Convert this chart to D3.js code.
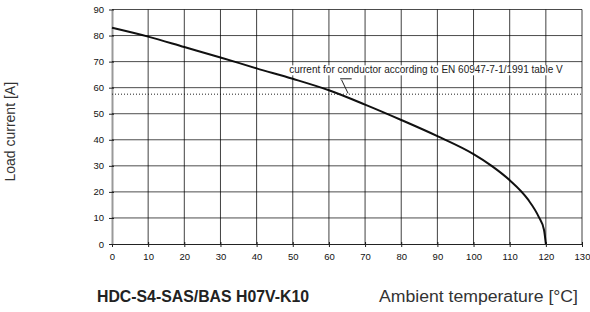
<!DOCTYPE html>
<html>
<head>
<meta charset="utf-8">
<script src="https://cdn.jsdelivr.net/npm/d3@7"></script>
</head>
<body style="margin:0">
<div id="chart"></div>
<script>
// derating curve: ambient temperature [°C] -> load current [A]
const temps    = [0, 10, 20, 30, 40, 50, 60, 70, 80, 90, 100, 105, 110, 115, 118, 119.5, 120];
const currents = [83, 79.6, 75.6, 71.6, 67.4, 63.4, 59, 53.5, 47.6, 41.4, 34.5, 30.0, 24.5, 17.2, 10.5, 5.4, 0];

const xTicks = [0, 10, 20, 30, 40, 50, 60, 70, 80, 90, 100, 110, 120, 130];
const yTicks = [0, 10, 20, 30, 40, 50, 60, 70, 80, 90];

const conductorLimit = 57.5;
const noteText = "current for conductor according to EN 60947-7-1/1991 table V";
const noteAt = { x: 49, y: 65.5 };
const leader = [[63.5, 63.0], [65.3, 57.8]];
const leaderTop = [[63.1, 63.4], [66.3, 63.4]];

const yTitle = "Load current [A]";
const productName = "HDC-S4-SAS/BAS H07V-K10";
const xTitle = "Ambient temperature [°C]";

const tickFont = "Liberation Sans Narrow, Liberation Sans, Arial, sans-serif";
const textFont = "Liberation Sans, Arial, sans-serif";

const svg = d3.select("#chart").append("svg").attr("width", 590).attr("height", 312);
const x = d3.scaleLinear().domain([0, 130]).range([112, 582]);
const y = d3.scaleLinear().domain([0, 90]).range([244, 9.5]);

// axes
const xAxis = svg.append("g")
    .attr("transform", `translate(0, ${y(0)})`)
    .call(d3.axisBottom(x).tickValues(xTicks).tickSize(3).tickSizeOuter(0).tickPadding(6));
xAxis.select(".domain").attr("stroke", "#222").attr("stroke-width", 1.2);
xAxis.selectAll(".tick line").attr("stroke", "#222").attr("y1", -2);
xAxis.selectAll(".tick text").attr("font-family", tickFont).attr("font-size", 9.5).attr("fill", "#111");

const yAxis = svg.append("g")
    .attr("transform", `translate(${x(0)}, 0)`)
    .call(d3.axisLeft(y).tickValues(yTicks).tickSize(3).tickSizeOuter(0).tickPadding(5));
yAxis.select(".domain").attr("stroke", "#999").attr("stroke-width", 2);
yAxis.selectAll(".tick line").attr("stroke", "#222").attr("x1", 2);
yAxis.selectAll(".tick text").attr("font-family", tickFont).attr("font-size", 9.5).attr("fill", "#111");

// conductor limit (dotted)
svg.append("line")
    .attr("x1", x(0)).attr("x2", x(130))
    .attr("y1", y(conductorLimit)).attr("y2", y(conductorLimit))
    .attr("stroke", "#222")
    .attr("stroke-width", 1)
    .attr("stroke-dasharray", "1,2");

// derating curve
const data = temps.map((t, i) => ({ t: t, a: currents[i] }));
svg.append("path")
    .datum(data)
    .attr("fill", "none")
    .attr("stroke", "#111")
    .attr("stroke-width", 2)
    .attr("d", d3.line().x(d => x(d.t)).y(d => y(d.a)).curve(d3.curveMonotoneX));

// grid, drawn late so nothing sits on top of it
svg.selectAll("line.gv").data(xTicks.slice(1)).join("line")
    .attr("x1", d => x(d)).attr("x2", d => x(d))
    .attr("y1", y(90)).attr("y2", y(0))
    .attr("stroke", "black").attr("stroke-opacity", 0.75).attr("stroke-width", 1);
svg.selectAll("line.gh").data(yTicks.slice(1)).join("line")
    .attr("x1", x(0)).attr("x2", x(130))
    .attr("y1", d => y(d)).attr("y2", d => y(d))
    .attr("stroke", "black").attr("stroke-opacity", 0.7).attr("stroke-width", 1);

// annotation with white background
const note = svg.append("g");
const noteLabel = note.append("text")
    .attr("x", x(noteAt.x))
    .attr("y", y(noteAt.y))
    .attr("font-family", textFont)
    .attr("font-size", 10)
    .attr("fill", "#222")
    .text(noteText);
const bb = noteLabel.node().getBBox();
note.insert("rect", "text")
    .attr("x", bb.x - 1)
    .attr("y", bb.y + 1)
    .attr("width", bb.width + 2)
    .attr("height", bb.height - 1)
    .attr("fill", "#fff");

const line2 = d3.line().x(d => x(d[0])).y(d => y(d[1]));
svg.append("path").attr("d", line2(leaderTop)).attr("stroke", "#222").attr("fill", "none");
svg.append("path").attr("d", line2(leader)).attr("stroke", "#222").attr("fill", "none");

// titles
svg.append("text")
    .attr("transform", `translate(15, ${(y(0) + y(90)) / 2 + 5}) rotate(-90)`)
    .attr("text-anchor", "middle")
    .attr("font-family", textFont)
    .attr("font-size", 14)
    .attr("fill", "#333")
    .text(yTitle);

svg.append("text")
    .attr("x", 97)
    .attr("y", 302)
    .attr("font-family", textFont)
    .attr("font-weight", "bold")
    .attr("font-size", 16)
    .attr("fill", "#222")
    .attr("textLength", 212)
    .attr("lengthAdjust", "spacingAndGlyphs")
    .text(productName);

svg.append("text")
    .attr("x", 379)
    .attr("y", 302)
    .attr("font-family", textFont)
    .attr("font-size", 16)
    .attr("fill", "#333")
    .attr("textLength", 199)
    .attr("lengthAdjust", "spacingAndGlyphs")
    .text(xTitle);
</script>
</body>
</html>
